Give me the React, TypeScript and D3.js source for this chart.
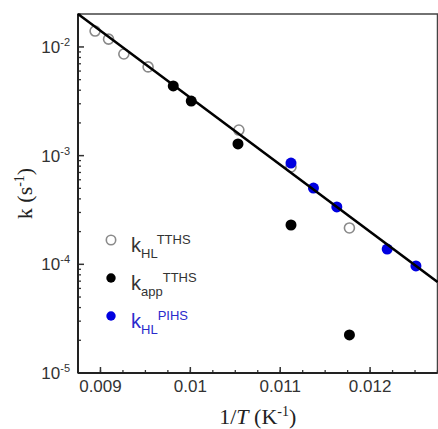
import React, {useEffect, useRef} from 'react'
import * as d3 from 'd3'

// kHL TTHS (open gray circles)
const hlTthsX = [0.00894, 0.00909, 0.00926, 0.00953, 0.01054, 0.01112, 0.01177]
const hlTthsK = [0.0140, 0.0118, 0.00861, 0.00655, 0.00172, 0.000787, 0.000216]

// kapp TTHS (filled black)
const appTthsX = [0.00981, 0.01001, 0.01053, 0.01112, 0.01177]
const appTthsK = [0.00438, 0.00318, 0.00128, 0.000230, 0.0000224]

// kHL PIHS (filled blue)
const hlPihsX = [0.01112, 0.01137, 0.01163, 0.01219, 0.01251]
const hlPihsK = [0.000855, 0.000503, 0.000337, 0.000138, 0.0000966]

// fitted line end points
const fitX = [0.00875, 0.01275]
const fitK = [0.0201, 0.0000687]

const xTicks = [0.009, 0.01, 0.011, 0.012]
const xTickLabels = ['0.009', '0.01', '0.011', '0.012']
const yTicks = [1e-5, 1e-4, 1e-3, 1e-2]
const yTickExps = ['-5', '-4', '-3', '-2']

const W = 438, H = 429

const App = () => {
  const ref = useRef(null)

  useEffect(() => {
    const svg = d3.select(ref.current)
    svg.selectAll('*').remove()

    const left = 78, right = 437.5, top = 14, bottom = 373

    const x = d3.scaleLinear().domain([0.00875, 0.01275]).range([left, right])
    const y = d3.scaleLog().domain([1e-5, 0.0201]).range([bottom, top])

    const g = svg.append('g')

    // frame
    g.append('rect')
      .attr('x', left).attr('y', top)
      .attr('width', right - left).attr('height', bottom - top)
      .attr('fill', 'none').attr('stroke', '#444').attr('stroke-width', 1.5)

    // x minor + major ticks (inward)
    const xMinor = d3.range(0.00875, 0.012751, 0.00025)
    g.append('g').selectAll('line').data(xMinor).enter().append('line')
      .attr('x1', d => x(d)).attr('x2', d => x(d))
      .attr('y1', bottom).attr('y2', bottom - 3)
      .attr('stroke', '#333').attr('stroke-width', 1.3)
    g.append('g').selectAll('line').data(xTicks).enter().append('line')
      .attr('x1', d => x(d)).attr('x2', d => x(d))
      .attr('y1', bottom).attr('y2', bottom - 6)
      .attr('stroke', '#333').attr('stroke-width', 1.5)
    g.append('g').selectAll('text').data(xTicks).enter().append('text')
      .attr('x', d => x(d)).attr('y', 392)
      .attr('text-anchor', 'middle')
      .attr('font-family', 'Liberation Sans, Arial, sans-serif')
      .attr('font-size', 17).attr('fill', '#333')
      .text((d, i) => xTickLabels[i])

    // y ticks
    const yMinor = []
    for (let e = -5; e < -1; e++) {
      for (let m = 2; m <= 9; m++) {
        const v = m * Math.pow(10, e)
        if (v <= 0.0201) yMinor.push(v)
      }
    }
    g.append('g').selectAll('line').data(yMinor).enter().append('line')
      .attr('x1', left).attr('x2', left + 3)
      .attr('y1', d => y(d)).attr('y2', d => y(d))
      .attr('stroke', '#333').attr('stroke-width', 1.3)
    g.append('g').selectAll('line').data(yTicks).enter().append('line')
      .attr('x1', left).attr('x2', left + 6)
      .attr('y1', d => y(d)).attr('y2', d => y(d))
      .attr('stroke', '#333').attr('stroke-width', 1.5)
    const yl = g.append('g').selectAll('text').data(yTicks).enter().append('text')
      .attr('x', 70).attr('y', d => y(d) + 6)
      .attr('text-anchor', 'end')
      .attr('font-family', 'Liberation Sans, Arial, sans-serif')
      .attr('font-size', 17).attr('fill', '#333')
    yl.append('tspan').text('10')
    yl.append('tspan').attr('dy', -7).attr('font-size', 11).text((d, i) => yTickExps[i])

    // axis lines on top
    g.append('line').attr('x1', left).attr('x2', left).attr('y1', top).attr('y2', bottom)
      .attr('stroke', '#222').attr('stroke-width', 2)
    g.append('line').attr('x1', left).attr('x2', right).attr('y1', bottom).attr('y2', bottom)
      .attr('stroke', '#222').attr('stroke-width', 2)

    // points
    const open = hlTthsX.map((v, i) => ({x: v, k: hlTthsK[i]}))
    const black = appTthsX.map((v, i) => ({x: v, k: appTthsK[i]}))
    const blue = hlPihsX.map((v, i) => ({x: v, k: hlPihsK[i]}))

    g.append('g').selectAll('circle').data(open).enter().append('circle')
      .attr('cx', d => x(d.x)).attr('cy', d => y(d.k)).attr('r', 5)
      .attr('fill', 'none').attr('stroke', '#8a8a8a').attr('stroke-width', 1.6)
    g.append('g').selectAll('circle').data(black).enter().append('circle')
      .attr('cx', d => x(d.x)).attr('cy', d => y(d.k)).attr('r', 5.5)
      .attr('fill', '#000')
    g.append('g').selectAll('circle').data(blue).enter().append('circle')
      .attr('cx', d => x(d.x)).attr('cy', d => y(d.k)).attr('r', 5.5)
      .attr('fill', '#0000e0')

    // fit line
    const line = d3.line().x(d => x(d[0])).y(d => y(d[1]))
    g.append('path')
      .datum(fitX.map((v, i) => [v, fitK[i]]))
      .attr('fill', 'none').attr('stroke', '#000').attr('stroke-width', 2.5)
      .attr('d', line)

    // legend
    const leg = [
      {sub: 'HL', sup: 'TTHS', kind: 'open', color: '#333'},
      {sub: 'app', sup: 'TTHS', kind: 'black', color: '#333'},
      {sub: 'HL', sup: 'PIHS', kind: 'blue', color: '#2a2acc'},
    ]
    leg.forEach((l, i) => {
      const cy = 240 + i * 38
      const c = g.append('circle').attr('cx', 111).attr('cy', cy).attr('r', 4.7)
      if (l.kind === 'open') c.attr('fill', 'none').attr('stroke', '#8a8a8a').attr('stroke-width', 1.6)
      else c.attr('fill', l.kind === 'blue' ? '#0000e0' : '#000')
      const t = g.append('text').attr('x', 131).attr('y', cy + 12)
        .attr('font-family', 'Liberation Sans, Arial, sans-serif')
        .attr('fill', l.color).attr('font-size', 20)
      t.append('tspan').text('k')
      t.append('tspan').attr('dy', 6).attr('font-size', 13).text(l.sub)
      t.append('tspan').attr('dy', -14).attr('font-size', 13).text(l.sup)
    })

    // axis labels
    const xt = g.append('text').attr('x', (left + right) / 2).attr('y', 424)
      .attr('text-anchor', 'middle')
      .attr('font-family', 'Liberation Serif, Times New Roman, serif')
      .attr('font-size', 22).attr('fill', '#222')
    xt.append('tspan').text('1/')
    xt.append('tspan').attr('font-style', 'italic').text('T')
    xt.append('tspan').text(' (K')
    xt.append('tspan').attr('dy', -8).attr('font-size', 14).text('-1')
    xt.append('tspan').attr('dy', 8).text(')')

    const yt = g.append('text')
      .attr('transform', `translate(32,${(top + bottom) / 2}) rotate(-90)`)
      .attr('text-anchor', 'middle')
      .attr('font-family', 'Liberation Serif, Times New Roman, serif')
      .attr('font-size', 22).attr('fill', '#222')
    yt.append('tspan').text('k (s')
    yt.append('tspan').attr('dy', -8).attr('font-size', 14).text('-1')
    yt.append('tspan').attr('dy', 8).text(')')

    return () => { svg.selectAll('*').remove() }
  }, [])

  return (
    <svg ref={ref} width={W} height={H}
      style={{position: 'absolute', left: 0, top: 0, background: '#fff'}}>
    </svg>
  )
}

export default App
